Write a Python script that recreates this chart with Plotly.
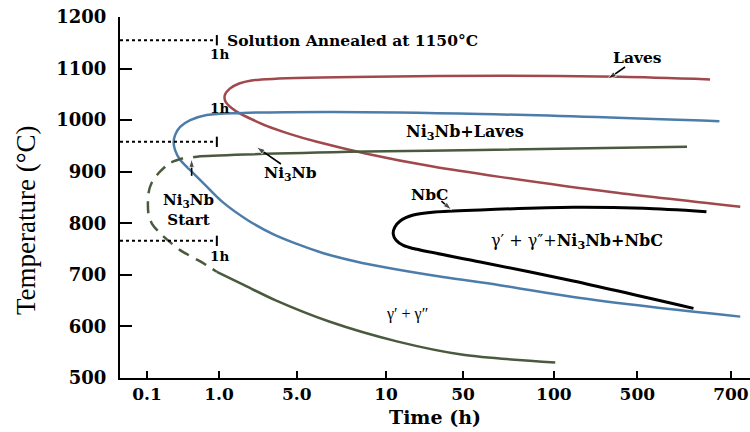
import plotly.graph_objects as go

# ---------------- data (axis position units: x = schematic time axis, y = °C) -------------
tick_pos = [1.0, 2.0, 3.08, 4.32, 5.39, 6.65, 7.81, 9.11]
tick_text = ["0.1", "1.0", "5.0", "10", "50", "100", "500", "700"]
temp_ticks = [500, 600, 700, 800, 900, 1000, 1100, 1200]

laves_x = [8.82, 7.57, 5.90, 4.14, 2.75, 2.45, 2.28, 2.15, 2.08, 2.09, 2.17, 2.30, 2.45,
           2.66, 2.99, 3.36, 4.05, 4.97, 5.90, 7.47, 9.24]
laves_y = [1079, 1084, 1086, 1084, 1080, 1077, 1071, 1061, 1048, 1036, 1024, 1012, 1002,
           989, 973, 958, 935, 910, 890, 860, 832]

ni3nb_start_x = [8.95, 5.63, 3.58, 2.33, 1.83, 1.60, 1.46, 1.39, 1.37, 1.39, 1.46, 1.60,
                 1.81, 2.06, 2.40, 2.75, 3.10, 3.44, 3.90, 4.375, 5.11, 5.90, 6.92, 7.99,
                 9.24]
ni3nb_start_y = [998, 1012, 1016, 1014, 1010, 1000, 987, 971, 956, 942, 923, 903,
                 874, 840, 806, 779, 759, 742.5, 726, 713, 696, 680, 657, 638, 619]

ni3nb_line_x = [1.64, 1.74, 4.05, 5.63, 8.50]
ni3nb_line_y = [928, 930, 939, 942, 948.5]

gp_dashed_x = [1.50, 1.32, 1.18, 1.07, 1.02, 1.02, 1.07, 1.18, 1.46, 1.74, 1.97]
gp_dashed_y = [926, 917, 900, 880, 858, 819, 799, 781, 748, 726, 706]

gp_solid_x = [1.97, 2.35, 2.78, 3.54, 4.47, 5.39, 6.67]
gp_solid_y = [706, 680, 651, 609, 571, 545, 530]

nbc_x = [8.77, 7.90, 6.92, 5.63, 5.00, 4.70, 4.52, 4.44, 4.42, 4.46, 4.56, 4.70, 5.63,
         6.92, 8.59]
nbc_y = [822.5, 829, 831, 826, 822, 816, 805, 792, 779, 767, 757, 751, 725, 688, 635]

hold_temps = [1155, 958, 766]
hold_end = 1.97
axis_start = 0.625

# arrows: (tail x, tail y, head x, head y)
arrows = [(7.64, 1103, 7.40, 1080),
          (2.86, 915, 2.52, 948),
          (1.62, 892, 1.62, 925),
          (5.09, 843, 5.23, 826)]

red = "#A0484C"
blue = "#4C7DAA"
green = "#4A5A3E"

fig = go.Figure()

def line(x, y, color, width=2.5, dash="solid", smoothing=0.8):
    fig.add_trace(go.Scatter(x=x, y=y, mode="lines", showlegend=False, hoverinfo="skip",
                             line=dict(color=color, width=width, dash=dash,
                                       shape="spline", smoothing=smoothing)))

line(laves_x, laves_y, red)
line(ni3nb_start_x, ni3nb_start_y, blue, smoothing=1.0)
line(ni3nb_line_x, ni3nb_line_y, green)
line(gp_dashed_x, gp_dashed_y, green, dash="12px,8px")
line(gp_solid_x, gp_solid_y, green)
line(nbc_x, nbc_y, "black", width=3)

for t in hold_temps:
    fig.add_trace(go.Scatter(x=[axis_start, hold_end], y=[t, t], mode="lines", showlegend=False,
                             hoverinfo="skip", line=dict(color="black", width=2, dash="dot")))
    fig.add_trace(go.Scatter(x=[hold_end, hold_end], y=[t - 10, t + 10], mode="lines",
                             showlegend=False, hoverinfo="skip",
                             line=dict(color="black", width=2)))

for tx, ty, hx, hy in arrows:
    fig.add_trace(go.Scatter(x=[tx, hx], y=[ty, hy], mode="lines+markers", showlegend=False,
                             hoverinfo="skip", line=dict(color="black", width=1.6),
                             marker=dict(symbol="arrow", size=[0, 9], angleref="previous",
                                         color="black")))

ann = []

def text(x, y, s, size=15, family="DejaVu Serif", xanchor="center"):
    ann.append(dict(x=x, y=y, xref="x", yref="y", text=s, showarrow=False, xanchor=xanchor,
                    yanchor="middle", font=dict(family=family, size=size, color="black")))

text(2.08, 1155, "<b>Solution Annealed at 1150°C</b>", size=15.5, xanchor="left")
text(2.00, 1128, "<b>1h</b>", size=13.5)
text(2.00, 1024, "<b>1h</b>", size=13.5)
text(2.00, 736, "<b>1h</b>", size=13.5)
text(7.81, 1122, "<b>Laves</b>", size=15.5)
text(5.42, 977, "<b>Ni<sub>3</sub>Nb+Laves</b>", size=16)
text(2.99, 897, "<b>Ni<sub>3</sub>Nb</b>", size=15.5)
text(1.57, 825, "<b>Ni<sub>3</sub>Nb<br>Start</b>", size=15)
text(4.93, 855, "<b>NbC</b>", size=15.5)
text(6.97, 764, "γ′ + γ″+<b>Ni<sub>3</sub>Nb+NbC</b>", size=16)
text(4.61, 625, "γ′ + γ″", size=16, family="Liberation Serif")

ann.append(dict(xref="paper", yref="paper", x=-0.149, y=0.438, text="Temperature (°C)",
                textangle=-90, showarrow=False, xanchor="center", yanchor="middle",
                font=dict(family="Liberation Serif", size=27, color="black")))
ann.append(dict(xref="paper", yref="paper", x=0.5, y=-0.108, text="<b>Time (h)</b>",
                showarrow=False, xanchor="center", yanchor="middle",
                font=dict(family="DejaVu Serif", size=19, color="black")))

fig.update_layout(
    width=750, height=432,
    margin=dict(l=120, r=0, t=17, b=54),
    paper_bgcolor="white", plot_bgcolor="white",
    annotations=ann,
    xaxis=dict(range=[axis_start, 9.375], showgrid=False, zeroline=False, showline=True,
               linecolor="black", linewidth=2, ticks="inside", ticklen=7, tickwidth=2,
               tickcolor="black", tickvals=tick_pos, ticktext=[f"<b>{t}</b>" for t in tick_text],
               tickfont=dict(family="DejaVu Serif", size=17, color="black")),
    yaxis=dict(range=[500, 1200], showgrid=False, zeroline=False, showline=True,
               linecolor="black", linewidth=2, ticks="inside", ticklen=12, tickwidth=1.5,
               tickcolor="black", tickvals=temp_ticks,
               ticktext=[f"<b>{t}</b>" for t in temp_ticks], ticklabelstandoff=8,
               tickfont=dict(family="DejaVu Serif", size=18, color="black")),
)

fig.write_html("out.html")
